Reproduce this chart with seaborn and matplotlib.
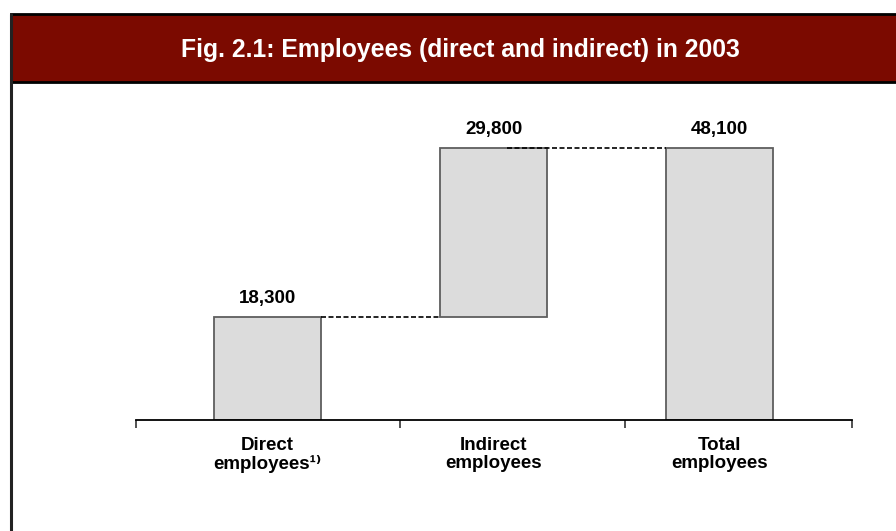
import pandas as pd
import seaborn as sns
import matplotlib.pyplot as plt
from matplotlib.patches import Rectangle
from matplotlib.lines import Line2D

# Veriler
categories = ['Direct', 'Indirect', 'Total']
tick_labels = ['Direct\nemployees¹⁾', 'Indirect\nemployees', 'Total\nemployees']
values = [18300, 29800, 48100]
bottoms = [0, 18300, 0]
value_labels = ['18,300', '29,800', '48,100']
title = 'Fig. 2.1: Employees (direct and indirect) in 2003'

sns.set_style('white')
plt.rcParams['font.family'] = ['Liberation Sans', 'DejaVu Sans']
plt.rcParams['text.color'] = 'black'
plt.rcParams['xtick.color'] = 'black'
plt.rcParams['xtick.labelcolor'] = 'black'

df = pd.DataFrame({'cat': categories, 'value': values, 'bottom': bottoms})

fig = plt.figure(figsize=(8.96, 5.31), dpi=100)

# Çerçeve ve başlık bandı (piksel koordinatları)
bg = fig.add_axes([0, 0, 1, 1])
bg.set_xlim(0, 896)
bg.set_ylim(531, 0)
bg.axis('off')
bg.add_patch(Rectangle((11, 14), 900, 68, facecolor='#7B0A00', edgecolor='black', linewidth=2, zorder=2))
bg.add_line(Line2D([11, 11], [14, 531], color='#222222', linewidth=2.2, zorder=3))
bg.text(460, 50, title, color='white', fontsize=17.8, fontweight='bold', ha='center', va='center', zorder=4)

# Ana grafik
ax = fig.add_axes([136 / 896, (531 - 420) / 531, (852 - 136) / 896, 320 / 531])
ax.patch.set_alpha(0)
w = 0.473
sns.barplot(data=df, x='cat', y='value', bottom=df['bottom'].tolist(), ax=ax, width=w,
            color='#DCDCDC', saturation=1, edgecolor='#5E5E5E', linewidth=1.3)

ax.set_xlim(-0.582, 2.586)
ax.set_ylim(0, 56590)

# Değer etiketleri
for i, (v, b, lab) in enumerate(zip(values, bottoms, value_labels)):
    ax.annotate(lab, (i, v + b), xytext=(0, 7), textcoords='offset points',
                ha='center', va='bottom', fontsize=13.5, fontweight='bold')

# Bağlantı çizgileri
ax.plot([0 + w / 2, 1 - w / 2], [values[0], values[0]], color='black', linewidth=1.2,
        linestyle=(0, (3, 1.5)), zorder=5)
ax.plot([1.06, 2 - w / 2], [bottoms[1] + values[1]] * 2, color='black', linewidth=1.2,
        linestyle=(0, (3, 1.5)), zorder=5)

# Eksenler
for s in ['top', 'right', 'left']:
    ax.spines[s].set_visible(False)
ax.spines['bottom'].set_color('black')
ax.spines['bottom'].set_linewidth(1.3)
ax.set_yticks([])
ax.set_xlabel('')
ax.set_ylabel('')
ax.set_xticks(range(len(categories)))
ax.set_xticklabels(tick_labels, fontsize=13.5, fontweight='bold', linespacing=1.08)
ax.tick_params(axis='x', which='major', length=0, pad=12, bottom=True)
ax.set_xticks([-0.582, 0.586, 1.582, 2.586], minor=True)
ax.tick_params(axis='x', which='minor', length=6, width=1.2, direction='out', color='#333333', bottom=True)

fig.savefig('out.png', dpi=100)
